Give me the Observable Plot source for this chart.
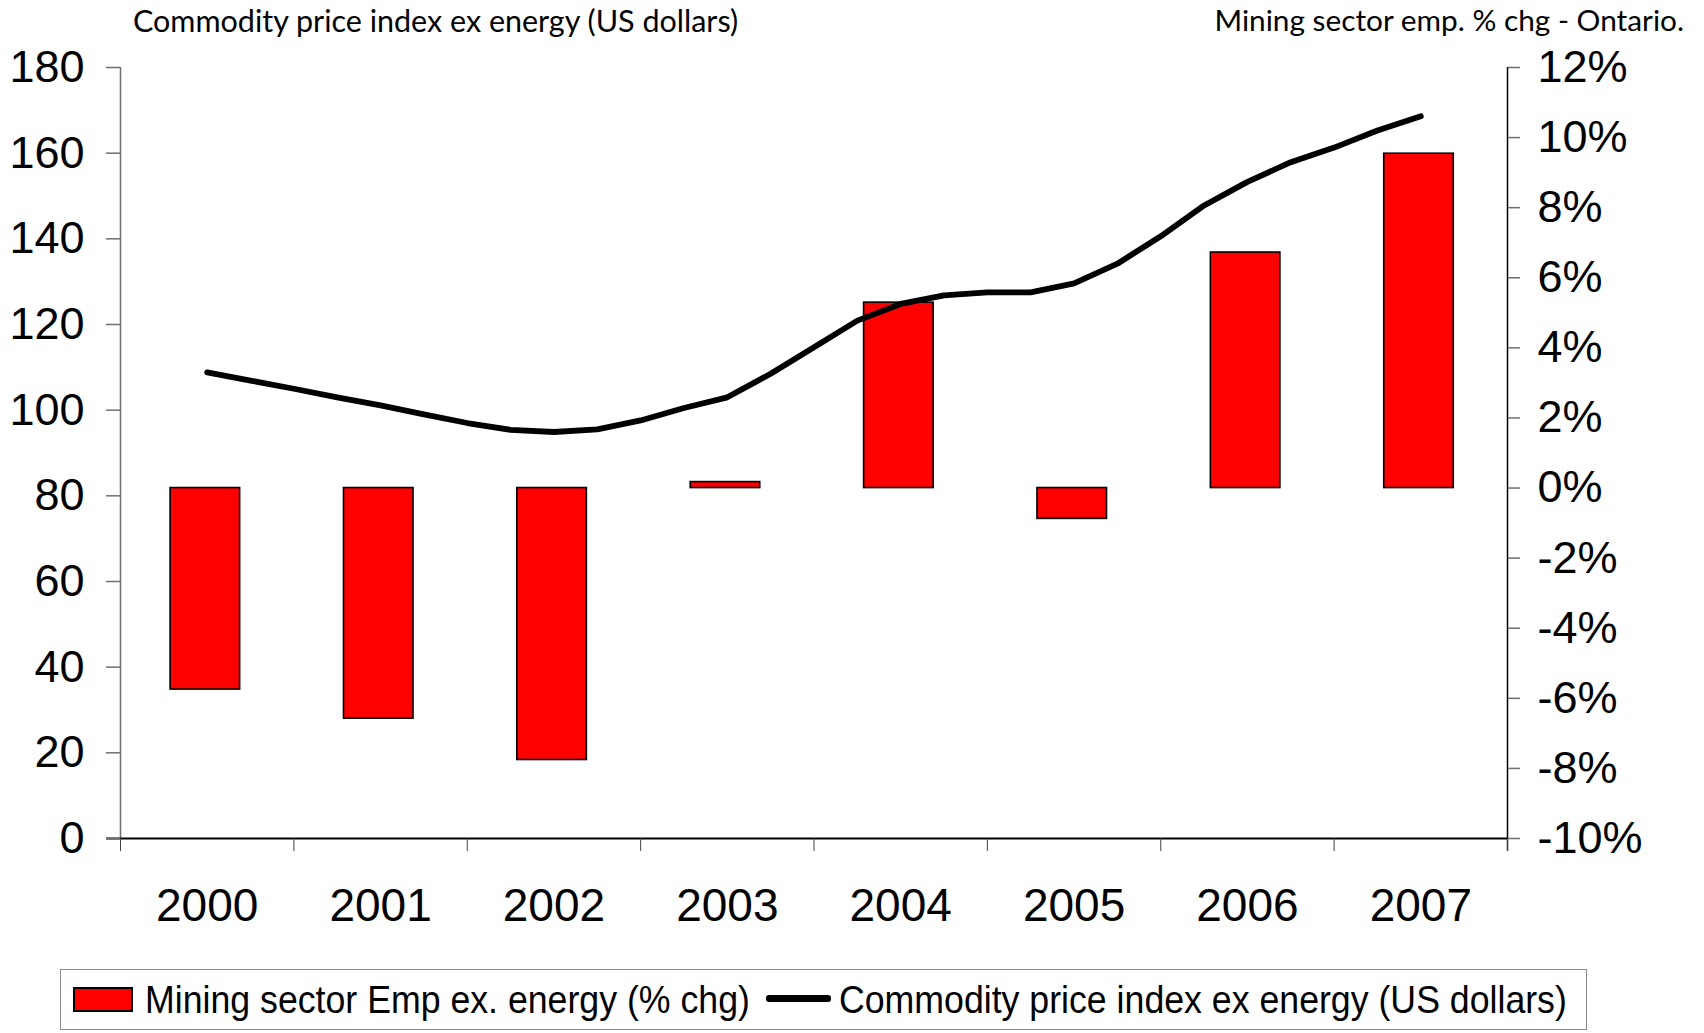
<!DOCTYPE html>
<html>
<head>
<meta charset="utf-8">
<script src="https://cdn.jsdelivr.net/npm/d3@7"></script>
<script src="https://cdn.jsdelivr.net/npm/@observablehq/plot@0.6"></script>
<style>
  html, body { margin: 0; padding: 0; background: #fff; }
  #wrap { position: relative; width: 1704px; height: 1033px; overflow: hidden; background: #fff; }
  #chart { position: absolute; left: 0; top: 0; }
  .title { position: absolute; top: 0px; font-family: Lato, "Open Sans", sans-serif; font-size: 30.5px; line-height: 40px; color: #000; white-space: nowrap; }
  #legend { position: absolute; left: 60px; top: 969px; width: 1527px; height: 61px; border: 1.5px solid #8a8a8a; box-sizing: border-box; }
  .ltext { position: absolute; font-family: "Liberation Sans", Arial, sans-serif; font-size: 39px; line-height: 39px; color: #000; white-space: nowrap; transform: scaleX(0.915); transform-origin: left center; }
  .lswatch { position: absolute; box-sizing: border-box; }
</style>
</head>
<body>
<div id="wrap">
  <div id="chart"></div>
  <div class="title" id="tLeft" style="left:133px;">Commodity price index ex energy (US dollars)</div>
  <div class="title" id="tRight" style="right:20px; font-size:29.8px;">Mining sector emp. % chg - Ontario.</div>
  <div class="lswatch" style="left:73px; top:987px; width:60px; height:25px; background:#ff0000; border:2px solid #000;"></div>
  <div class="ltext" style="left:145px; top:980px;">Mining sector Emp ex. energy (% chg)</div>
  <div class="lswatch" style="left:766px; top:995px; width:65px; height:7px; background:#000; border-radius:3px;"></div>
  <div class="ltext" style="left:839px; top:980px;">Commodity price index ex energy (US dollars)</div>
  <div id="legend"></div>
</div>
<script>
// ---- Data ----
const years = [2000, 2001, 2002, 2003, 2004, 2005, 2006, 2007];
const empChange = [-5.75, -6.58, -7.76, 0.17, 5.29, -0.88, 6.72, 9.54]; // % chg, right axis

// Commodity price index ex energy, quarterly (decimal year, mid-year = year + 0.5)
const quarterTimes = [
  2000.5, 2000.75, 2001.0, 2001.25, 2001.5, 2001.75, 2002.0, 2002.25, 2002.5, 2002.75,
  2003.0, 2003.25, 2003.5, 2003.75, 2004.0, 2004.25, 2004.5, 2004.75, 2005.0, 2005.25,
  2005.5, 2005.75, 2006.0, 2006.25, 2006.5, 2006.75, 2007.0, 2007.25, 2007.5
];
const commodityIndex = [
  108.8, 106.9, 105.0, 103.0, 101.1, 99.0, 97.0, 95.4, 94.9, 95.5,
  97.6, 100.5, 103.0, 108.5, 114.7, 120.9, 124.8, 126.8, 127.5, 127.5,
  129.6, 134.2, 140.6, 147.8, 153.3, 157.9, 161.3, 165.3, 168.6
];

const leftTicks = [0, 20, 40, 60, 80, 100, 120, 140, 160, 180];
const rightTicks = [-10, -8, -6, -4, -2, 0, 2, 4, 6, 8, 10, 12];
const xBoundaries = [2000, 2001, 2002, 2003, 2004, 2005, 2006, 2007, 2008];

// ---- Dual-axis mapping (percent -> index units) ----
const idxMin = 0, idxMax = 180, pctMin = -10, pctMax = 12;
const toIdx = p => idxMin + (p - pctMin) * (idxMax - idxMin) / (pctMax - pctMin);
const toPct = v => pctMin + (v - idxMin) * (pctMax - pctMin) / (idxMax - idxMin);

const bars = years.map((y, i) => ({year: y, pct: empChange[i]}));
const line = quarterTimes.map((t, i) => ({t, v: commodityIndex[i]}));

const chart = Plot.plot({
  width: 1704,
  height: 940,
  marginTop: 67,
  marginBottom: 102,
  marginLeft: 120,
  marginRight: 197,
  style: {background: "white", fontFamily: "'Liberation Sans', Arial, sans-serif", color: "#000", overflow: "visible"},
  x: {type: "linear", domain: [2000, 2008]},
  y: {type: "linear", domain: [idxMin, idxMax]},
  marks: [
    Plot.rect(bars, {
      x1: d => d.year + 0.289, x2: d => d.year + 0.69,
      y1: () => toIdx(0), y2: d => toIdx(d.pct),
      fill: "#ff0000", stroke: "#000", strokeWidth: 1.6
    }),
    Plot.line(line, {x: "t", y: "v", stroke: "#000", strokeWidth: 5.8, strokeLinecap: "round", strokeLinejoin: "round"}),
    Plot.ruleX([2000], {stroke: "#6e6e6e", strokeWidth: 1.5}),
    Plot.ruleX([2008], {stroke: "#000", strokeWidth: 1.5, y1: -3, y2: idxMax}),
    Plot.ruleY([0], {stroke: "#000", strokeWidth: 2, x1: 1999.92, x2: 2008}),
    Plot.axisY(leftTicks, {anchor: "left", tickSize: 14, tickPadding: 22, fontSize: 45, stroke: "#6e6e6e", strokeWidth: 1.5, label: null}),
    Plot.axisY(rightTicks.map(toIdx), {anchor: "right", tickSize: 12, tickPadding: 18, fontSize: 45, stroke: "#6e6e6e", strokeWidth: 1.5, label: null,
      tickFormat: v => Math.round(toPct(v)) + "%"}),
    Plot.axisX(xBoundaries, {anchor: "bottom", tickSize: 13, tickFormat: () => "", stroke: "#444", label: null}),
    Plot.axisX(years.map(y => y + 0.5), {anchor: "bottom", tickSize: 0, tickPadding: 50, fontSize: 46, label: null,
      tickFormat: v => String(Math.floor(v))})
  ]
});
document.getElementById("chart").appendChild(chart);
</script>
</body>
</html>
